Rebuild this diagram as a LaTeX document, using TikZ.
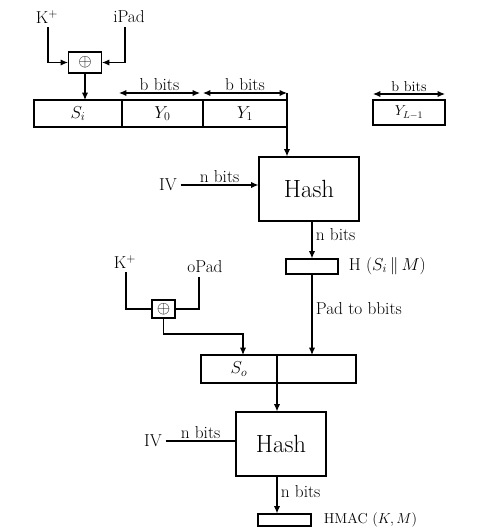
\documentclass[tikz,border=0pt]{standalone}
\usepackage{amsmath,amssymb}
\usetikzlibrary{arrows.meta,calc,positioning}

\begin{document}
\begin{tikzpicture}[x=1pt,y=-1pt,
          >={Latex[length=2.6mm,width=2.2mm]},
          every path/.style={line width=1.1pt},
          wire/.style={},
          flow/.style={->},
          span/.style={<->},
          cell/.style={draw,inner sep=0pt,outer sep=0pt,font=\LARGE},
          xorbox/.style={draw,inner sep=0pt,font=\LARGE},
          hashbox/.style={draw,inner sep=0pt,font=\Huge},
          outbox/.style={draw,inner sep=0pt},
          lbl/.style={font=\LARGE}
        ]
        \path[use as bounding box] (0,0) rectangle (484,530);

        \node[lbl] (kA) at (47,17) {K$^+$};
        \node[lbl] (ipadA) at (129,17) {iPad};
        \node[xorbox,minimum width=33,minimum height=21] (xorA) at (85,62.5) {$\oplus$};
        \draw[flow] (kA.south -| 48,0) |- (xorA.west);
        \draw[flow] (ipadA.south -| 125,0) |- (xorA.east);

        \node[cell,minimum width=88,minimum height=27] (si) at (78,113.5) {$S_i$};
        \node[cell,minimum width=81,minimum height=27,right=0pt of si] (y0) {$Y_0$};
        \node[cell,minimum width=84,minimum height=27,right=0pt of y0] (y1) {$Y_1$};
        \node[cell,font=\Large,minimum width=72,minimum height=25] (yl) at (409,112.5) {$Y_{L-1}$};
        \draw[flow] (xorA.south) -- (xorA.south |- si.north);

        \draw[span] ($(y0.north west)+(-3,-7)$) -- node[lbl,above=-2pt] {b bits} ($(y0.north east)+(-3,-7)$);
        \draw[span] ($(y1.north west)+(0,-7)$) -- node[lbl,above=-2pt] {b bits} ($(y1.north east)+(0,-7)$);
        \draw[span] ($(yl.north west)+(0,-6)$) -- node[font=\Large,above=-2pt] {b bits} ($(yl.north east)+(0,-6)$);

        \node[hashbox,minimum width=100,minimum height=64] (hashA) at (309,189) {Hash};
        \draw[flow] ($(y1.north east)+(0,-7)$) -- (y1.north east |- hashA.north);
        \node[lbl] (ivA) at (168,185) {IV};
        \draw[flow] (ivA.east) -- node[lbl,above=-2pt,pos=0.5] {n bits} (ivA.east -| hashA.west);

        \node[outbox,minimum width=52,minimum height=15] (hA) at (312,266.5) {};
        \node[lbl,anchor=west] at (345,266) {H $(S_i\,\|\,M)$};
        \draw[flow] (hashA.south -| hA) -- node[lbl,right,pos=0.35] {n bits} (hA.north);

        \node[cell,minimum width=76,minimum height=28] (so) at (239,369) {$S_o$};
        \node[cell,minimum width=79,minimum height=28,right=0pt of so] (rest) {};
        \draw[flow] (hA.south) -- node[lbl,right,pos=0.42] {Pad to bbits} (hA.south |- rest.north);

        \node[lbl] (kB) at (125,262) {K$^+$};
        \node[lbl] (opadB) at (205,267) {oPad};
        \node[xorbox,minimum width=23,minimum height=18] (xorB) at (163.5,309) {$\oplus$};
        \draw[wire] (kB.south -| 126,0) |- (xorB.west);
        \draw[wire] (opadB.south -| 199,0) |- (xorB.east);
        \coordinate (bendB) at (243,334);
        \draw[flow] (xorB.south) |- (bendB) -- (bendB |- so.north);

        \node[hashbox,minimum width=90,minimum height=64] (hashB) at (281,444) {Hash};
        \draw[flow] (so.south east) -- (so.south east |- hashB.north);
        \node[lbl] (ivB) at (153,441) {IV};
        \draw[wire] (ivB.east) -- node[lbl,above=-2pt,pos=0.5] {n bits} (ivB.east -| hashB.west);

        \node[outbox,minimum width=53,minimum height=12] (hmac) at (284.5,520) {};
        \node[font=\Large,anchor=west] at (320,520) {HMAC $(K,M)$};
        \draw[flow] (so.south east |- hashB.south) -- node[lbl,right,pos=0.4] {n bits} (so.south east |- hmac.north);
      \end{tikzpicture}
\end{document}
